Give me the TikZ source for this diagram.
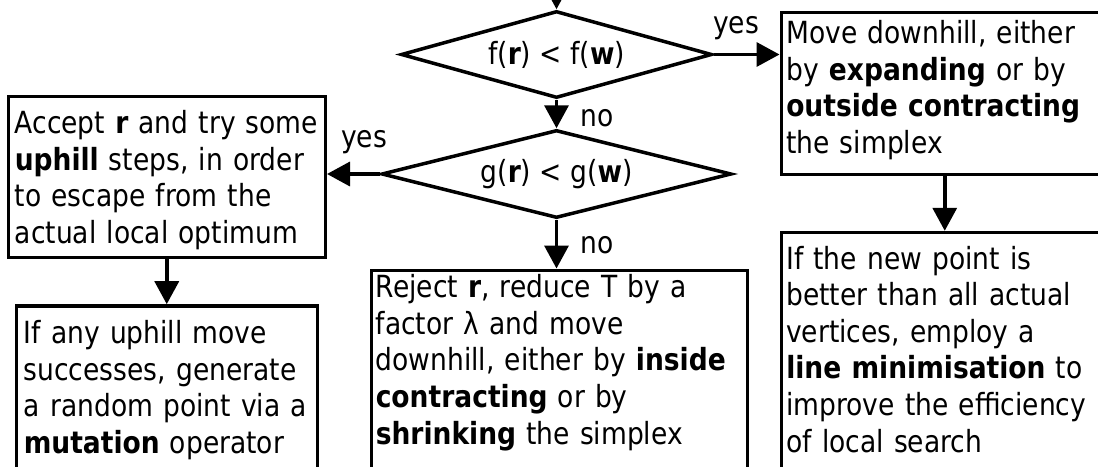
\documentclass[tikz,border=0pt]{standalone}
\usepackage{fontspec}
\setmainfont{DejaVu Sans}[FakeStretch=0.87]
\usetikzlibrary{shapes.geometric,arrows.meta}

\tikzset{
  txt/.style={font=\fontsize{30.5pt}{36.6pt}\selectfont},
  stepbox/.style={txt, draw, line width=3.5pt, anchor=north west, align=left, inner ysep=0pt},
  test/.style={txt, draw, line width=3.5pt, diamond, aspect=3.5, inner sep=0pt},
  lbl/.style={txt, inner sep=0pt},
  flow/.style={line width=3.5pt, -{Triangle[length=23pt,width=24pt]}},
}

\begin{document}
\begin{tikzpicture}[x=1pt, y=-1pt]
    \useasboundingbox (0,0) rectangle (1098,466);
    \clip (0,0) rectangle (1098,466);
    % decisions
    \node[test, minimum width=311pt, minimum height=87pt] (f) at (556.5,54.5) {f(\textbf{r}) < f(\textbf{w})};
    \node[test, minimum width=350pt, minimum height=88pt] (g) at (556.5,174) {g(\textbf{r}) < g(\textbf{w})};
    % boxes
    \node[stepbox, text width=304pt, inner xsep=6.5pt, text height=37.5pt, text depth=123.5pt] (acc) at (6.5,94.5)
        {Accept \textbf{r} and try some\\ \textbf{uphill} steps, in order\\ to escape from the\\ actual local optimum};
    \node[stepbox, text width=286pt, inner xsep=7.5pt, text height=37.8pt, text depth=200pt] (any) at (14.5,304.2)
        {If any uphill move\\ successes, generate\\ a random point via a\\ \textbf{mutation} operator};
    \node[stepbox, text width=367pt, inner xsep=4.5pt, text height=27.5pt, text depth=200pt] (rej) at (369.5,268.5)
        {Reject \textbf{r}, reduce T by a\\ factor λ and move\\ downhill, either by \textbf{inside}\\ \textbf{contracting} or by\\ \textbf{shrinking} the simplex};
    \node[stepbox, text width=317pt, inner xsep=5pt, text height=31.5pt, text depth=130.5pt] (mv) at (779.5,10.5)
        {Move downhill, either\\ by \textbf{expanding} or by\\ \textbf{outside contracting}\\ the simplex};
    \node[stepbox, text width=317pt, inner xsep=5pt, text height=36.5pt, text depth=200pt] (np) at (779.5,230.8)
        {If the new point is\\ better than all actual\\ vertices, employ a\\ \textbf{line minimisation} to\\ improve the efficiency\\ of local search};
    % arrows
    \coordinate (in) at (556.5,-40);
    \draw[flow] (in) -- (f.north);
    \draw[flow] (f.east) -- node[lbl, pos=0.34, anchor=base, yshift=21pt] {yes} (f.east -| mv.west);
    \draw[flow] (f.south) -- node[lbl, pos=0.95, anchor=base west, xshift=22pt] {no} (g.north);
    \draw[flow] (g.west) -- node[lbl, pos=0.3, anchor=base, yshift=27pt] {yes} (g.west -| acc.east);
    \draw[flow] (g.south) -- node[lbl, pos=0.7, anchor=base west, xshift=22pt] {no} (g.south |- rej.north);
    \draw[flow] (acc.south) -- (acc.south |- any.north);
    \draw[flow] (mv.south) -- (mv.south |- np.north);
\end{tikzpicture}
\end{document}
